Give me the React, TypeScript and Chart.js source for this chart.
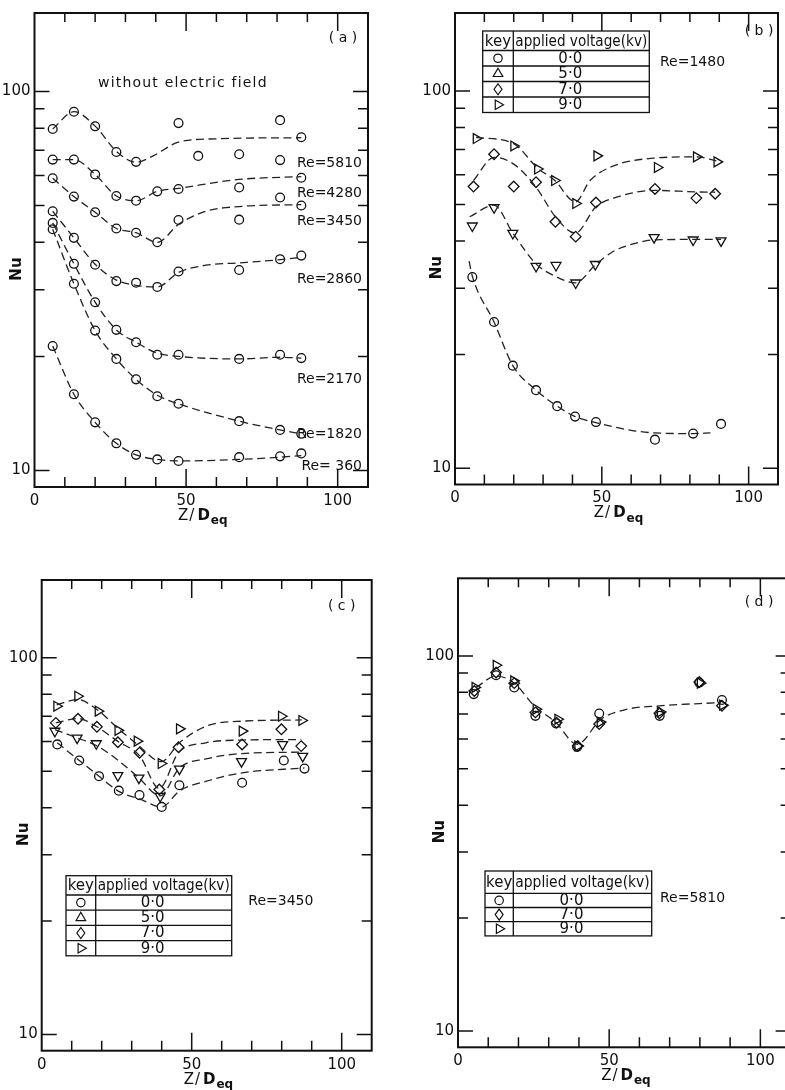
import React, { useEffect, useRef } from 'react';
import { Chart, registerables } from 'chart.js';

Chart.register(...registerables);

// ---------------- axes ----------------
const X_MIN = 0;
const X_MAX = 110;
const Y_MIN = 9.05;
const Y_MAX = 161;
const X_TICK_LABELS = [0, 50, 100];
const Y_TICK_LABELS = [10, 100];
const X_MINOR = [10, 20, 30, 40, 50, 60, 70, 80, 90, 100];
const Y_MINOR = [10, 20, 30, 40, 50, 60, 70, 80, 90, 100];

// ---------------- panel (a): without electric field ----------------
const A_X = [6, 13, 20, 27, 33.5, 40.5, 47.5, 67.5, 81, 88];
const A_5810_X = [6, 13, 20, 27, 33.5, 47.5, 54, 67.5, 81, 88];
const A_5810 = [79.6, 88.4, 80.9, 69.2, 65.2, 82.5, 67.6, 68.3, 84.0, 75.7];
const A_4280 = [66.1, 66.1, 60.4, 53.0, 51.5, 54.5, 55.3, 55.8, 65.9, 59.2];
const A_3450 = [59.0, 52.8, 48.0, 43.5, 42.4, 40.0, 45.8, 45.9, 52.5, 50.0];
const A_2860 = [48.3, 41.1, 34.9, 31.6, 31.3, 30.5, 33.5, 33.8, 36.1, 36.9];
const A_2170 = [45.0, 35.1, 27.8, 23.5, 21.8, 20.2, 20.2, 19.7, 20.2, 19.8];
const A_1820 = [43.3, 31.1, 23.4, 19.7, 17.4, 15.7, 15.0, 13.5, 12.8, 12.5];
const A_360 = [21.3, 15.9, 13.4, 11.8, 11.0, 10.7, 10.6, 10.85, 10.9, 11.1];

const A_FIT_5810_X = [6, 13, 20, 27, 33.5, 39, 47.5, 60, 88];
const A_FIT_5810 = [79.6, 88.4, 81, 69.5, 65.0, 67.5, 73.5, 75.0, 75.5];
const A_FIT_4280_X = [6, 13, 20, 27, 33.5, 40.5, 47.5, 67.5, 88];
const A_FIT_4280 = [66.1, 66.1, 60.4, 53, 51.5, 54.5, 55.5, 58.6, 59.6];
const A_FIT_3450_X = [6, 13, 20, 27, 33.5, 40.5, 47.5, 56.5, 67.5, 88];
const A_FIT_3450 = [59, 52.8, 48, 43.5, 42.4, 40, 44.6, 48.3, 49.7, 50.3];
const A_FIT_2860_X = [6, 13, 20, 27, 33.5, 40.5, 47.5, 56.5, 67.5, 81, 88];
const A_FIT_2860 = [48.3, 41.1, 35, 31.8, 30.8, 30.5, 33.3, 34.8, 35.3, 36, 36.5];
const A_FIT_2170 = [45, 35.1, 27.8, 23.5, 21.8, 20.4, 20.0, 19.7, 19.9, 19.8];
const A_FIT_1820 = [43.3, 31.1, 23.4, 19.7, 17.4, 15.8, 15.0, 13.5, 12.8, 12.5];
const A_FIT_360 = [21.3, 15.9, 13.4, 11.8, 11.0, 10.7, 10.6, 10.7, 10.85, 10.95];
const A_RE_LABELS = ['Re=5810', 'Re=4280', 'Re=3450', 'Re=2860', 'Re=2170', 'Re=1820', 'Re= 360'];

// ---------------- panel (b): Re = 1480 ----------------
const B_0_X = [5.9, 13.3, 19.7, 27.6, 34.8, 40.9, 48.0, 68.1, 81.1, 90.6];
const B_0 = [32.1, 24.4, 18.7, 16.1, 14.6, 13.7, 13.25, 11.9, 12.35, 13.1];
const B_FIT0_X = [4.8, 5.9, 13.3, 19.7, 27.6, 34.8, 40.9, 48, 60, 68, 81, 87];
const B_FIT0 = [35.4, 32.3, 24.4, 18.7, 16.1, 14.6, 13.7, 13.2, 12.6, 12.4, 12.35, 12.4];
const B_5_X = [5.9, 13.3, 19.7, 27.6, 34.4, 41.1, 47.8, 67.8, 81.1, 90.6];
const B_5 = [43.9, 49.1, 41.95, 34.3, 34.5, 31.0, 34.7, 40.9, 40.3, 40.1];
const B_FIT5_X = [5, 13.3, 19.7, 27.6, 34.4, 41, 47.8, 54, 61.7, 68, 81, 90.6];
const B_FIT5 = [46.4, 49.8, 42, 34.8, 32.2, 31, 34.6, 37.6, 39.5, 40.3, 40.4, 40.4];
const B_7_X = [6.3, 13.3, 20, 27.6, 34.2, 41.1, 48, 68.1, 82.2, 88.6];
const B_7 = [55.8, 68.0, 55.8, 57.3, 45.0, 41.1, 50.6, 55.0, 52.0, 53.4];
const B_FIT7_X = [6.3, 13.3, 20, 27.6, 34.2, 41, 48, 55, 68, 82, 88.6];
const B_FIT7 = [57.9, 66.7, 64, 55.6, 46.4, 42, 49.3, 52.3, 54.5, 54, 53.9];
const B_9_X = [7.2, 20, 28.1, 33.9, 41.1, 48.3, 68.9, 82.2, 89.2];
const B_9 = [74.8, 71.5, 62.1, 57.9, 50.3, 67.3, 62.7, 66.9, 64.9];
const B_FIT9_X = [7.2, 20, 28, 34, 41, 46, 54, 68, 82, 89];
const B_FIT9 = [75.4, 72.5, 62.6, 57.9, 50.8, 57.9, 63.3, 66.4, 66.9, 65.3];

// ---------------- panel (c): Re = 3450 ----------------
const C_0_X = [5.2, 12.5, 19.1, 25.7, 32.6, 40.0, 45.9, 66.8, 80.7, 87.6];
const C_0 = [58.9, 53.4, 48.5, 44.4, 43.2, 40.2, 45.9, 46.6, 53.4, 50.8];
const C_FIT0_X = [5.2, 12.5, 19.1, 25.7, 32.6, 40, 45.9, 54.7, 66.8, 87.6];
const C_FIT0 = [59.5, 53.4, 48.5, 44.2, 42.2, 40.2, 44.3, 47.0, 49.5, 51.0];
const C_5_X = [4.4, 11.8, 18.2, 25.4, 32.4, 39.5, 45.9, 66.6, 80.3, 87.0];
const C_5 = [63.9, 61.3, 59.2, 48.7, 48.0, 42.9, 50.7, 53.1, 58.9, 54.8];
const C_FIT5_X = [4.4, 11.8, 18.2, 25.4, 32.4, 39.5, 45.9, 54.7, 66.6, 87];
const C_FIT5 = [64.5, 61.3, 58.5, 53.5, 48, 43, 51, 53.9, 55.7, 56.2];
const C_7_X = [4.7, 12.1, 18.4, 25.4, 32.6, 39.2, 45.6, 66.8, 79.9, 86.5];
const C_7 = [67.2, 68.9, 65.6, 59.7, 56.0, 44.7, 57.9, 58.9, 64.6, 58.3];
const C_FIT7_X = [4.7, 12.1, 18.4, 25.4, 32.6, 39.2, 45.6, 54.7, 66.8, 86.5];
const C_FIT7 = [67.2, 69, 65.6, 60, 55, 45, 56, 59.5, 60.5, 60.7];
const C_9_X = [5.0, 12.0, 18.8, 25.4, 31.8, 39.8, 45.9, 66.8, 79.9, 86.7];
const C_9 = [74.4, 79.1, 72.2, 64.2, 60.1, 52.4, 64.8, 63.9, 70.0, 68.2];
const C_FIT9_X = [5, 12, 18.8, 25.4, 31.8, 39.8, 45.9, 54.7, 66.8, 86.7];
const C_FIT9 = [75, 77.5, 72.5, 65, 59, 53, 59.5, 65.8, 67.9, 68.4];

// ---------------- panel (d): Re = 5810 ----------------
const D_0_X = [5.2, 12.6, 18.6, 25.6, 32.4, 39.4, 46.7, 66.7, 79.8, 87.3];
const D_0 = [79.1, 88.8, 82.4, 69.2, 66.1, 57.2, 70.2, 69.2, 84.9, 76.3];
const D_7_X = [5.4, 12.6, 18.6, 25.6, 32.6, 39.6, 46.7, 66.6, 79.8, 87.3];
const D_7 = [80.6, 90.3, 84.6, 70.7, 66.4, 57.5, 65.8, 70.3, 85.2, 73.6];
const D_9_X = [5.6, 12.6, 18.4, 25.8, 33.0, 39.6, 47.0, 66.9, 80.1, 87.5];
const D_9 = [82.4, 94.4, 85.8, 72.1, 67.8, 57.5, 66.6, 70.9, 84.6, 73.9];
const D_FIT_X = [6, 12.6, 18.6, 25.2, 32.4, 39.4, 47.3, 56, 66.6, 87];
const D_FIT = [82.4, 88.4, 84.6, 73.6, 66.4, 58.1, 67.8, 72.1, 73.6, 75.1];

// ---------------- keys ----------------
const KEY_HEADER = ['key', 'applied voltage(kv)'];
const VOLTS_4 = ['0·0', '5·0', '7·0', '9·0'];
const VOLTS_3 = ['0·0', '7·0', '9·0'];

// ---------------- helpers ----------------
type Shape = 'circle' | 'down' | 'up' | 'diamond' | 'right';
type Series = { x: number[]; y: number[]; shape: Shape };
type Fit = { x: number[]; y: number[] };
type Area = { left: number; top: number; right: number; bottom: number };

const INK = '#111';
const FONT = '"DejaVu Sans", "Liberation Sans", sans-serif';

const pts = (xs: number[], ys: number[]) => xs.map((x, i) => ({ x, y: ys[i] }));

function pointStyleFor(shape: Shape) {
  switch (shape) {
    case 'circle':
      return { pointStyle: 'circle', pointRadius: 4.4, pointRotation: 0 };
    case 'down':
      return { pointStyle: 'triangle', pointRadius: 5.7, pointRotation: 180 };
    case 'up':
      return { pointStyle: 'triangle', pointRadius: 5.7, pointRotation: 0 };
    case 'diamond':
      return { pointStyle: 'rectRot', pointRadius: 5.3, pointRotation: 0 };
    case 'right':
      return { pointStyle: 'triangle', pointRadius: 5.7, pointRotation: 90 };
  }
}

function drawShape(ctx: CanvasRenderingContext2D, shape: Shape, x: number, y: number, r: number) {
  ctx.beginPath();
  if (shape === 'circle') {
    ctx.arc(x, y, r, 0, Math.PI * 2);
  } else if (shape === 'up') {
    ctx.moveTo(x, y - r);
    ctx.lineTo(x + r * 0.866, y + r * 0.5);
    ctx.lineTo(x - r * 0.866, y + r * 0.5);
    ctx.closePath();
  } else if (shape === 'down') {
    ctx.moveTo(x, y + r);
    ctx.lineTo(x + r * 0.866, y - r * 0.5);
    ctx.lineTo(x - r * 0.866, y - r * 0.5);
    ctx.closePath();
  } else if (shape === 'diamond') {
    ctx.moveTo(x, y - r);
    ctx.lineTo(x + r * 0.72, y);
    ctx.lineTo(x, y + r);
    ctx.lineTo(x - r * 0.72, y);
    ctx.closePath();
  } else {
    ctx.moveTo(x + r, y);
    ctx.lineTo(x - r * 0.5, y - r * 0.866);
    ctx.lineTo(x - r * 0.5, y + r * 0.866);
    ctx.closePath();
  }
  ctx.stroke();
}

function text(
  ctx: CanvasRenderingContext2D,
  s: string,
  x: number,
  y: number,
  align: CanvasTextAlign = 'left',
  font = `14px ${FONT}`,
  spacing = 0,
  maxWidth?: number
) {
  ctx.save();
  ctx.font = font;
  ctx.fillStyle = INK;
  ctx.textAlign = align;
  ctx.textBaseline = 'middle';
  (ctx as any).letterSpacing = `${spacing}px`;
  if (maxWidth) ctx.fillText(s, x, y, maxWidth);
  else ctx.fillText(s, x, y);
  ctx.restore();
}

type TableSpec = {
  left: number;
  top: number;
  width: number;
  keyW: number;
  headerH: number;
  rowH: number;
  shapes: Shape[];
  labels: string[];
};

function drawTable(ctx: CanvasRenderingContext2D, a: Area, t: TableSpec) {
  const x = a.left + t.left;
  const y = a.top + t.top;
  const n = t.labels.length;
  const h = t.headerH + t.rowH * n;
  ctx.save();
  ctx.strokeStyle = INK;
  ctx.lineWidth = 1.3;
  ctx.fillStyle = '#fff';
  ctx.fillRect(x, y, t.width, h);
  ctx.strokeRect(x, y, t.width, h);
  ctx.beginPath();
  ctx.moveTo(x + t.keyW, y);
  ctx.lineTo(x + t.keyW, y + h);
  for (let i = 0; i < n; i++) {
    const yy = y + t.headerH + i * t.rowH;
    ctx.moveTo(x, yy);
    ctx.lineTo(x + t.width, yy);
  }
  ctx.stroke();
  text(ctx, KEY_HEADER[0], x + t.keyW / 2, y + t.headerH / 2 + 1, 'center', `15px ${FONT}`, 0, t.keyW - 2);
  text(ctx, KEY_HEADER[1], x + t.keyW + 2, y + t.headerH / 2 + 1, 'left', `15px ${FONT}`, 0, t.width - t.keyW - 4);
  ctx.lineWidth = 1.2;
  for (let i = 0; i < n; i++) {
    const cy = y + t.headerH + i * t.rowH + t.rowH / 2;
    drawShape(ctx, t.shapes[i], x + t.keyW / 2, cy, t.shapes[i] === 'circle' ? 4.2 : 5.5);
    text(ctx, t.labels[i], x + t.keyW + (t.width - t.keyW) / 2 - 11, cy + 0.5, 'center', `15px ${FONT}`);
  }
  ctx.restore();
}

type PanelCfg = {
  id: string;
  left: number;
  top: number;
  width: number;
  height: number;
  area: Area;
  series: Series[];
  fits: Fit[];
  annotate: (ctx: CanvasRenderingContext2D, a: Area) => void;
};

const PANELS: PanelCfg[] = [
  {
    id: 'a',
    left: 0,
    top: 0,
    width: 392,
    height: 530,
    area: { left: 34.5, top: 7, right: 368, bottom: 487 },
    series: [
      { x: A_5810_X, y: A_5810, shape: 'circle' },
      { x: A_X, y: A_4280, shape: 'circle' },
      { x: A_X, y: A_3450, shape: 'circle' },
      { x: A_X, y: A_2860, shape: 'circle' },
      { x: A_X, y: A_2170, shape: 'circle' },
      { x: A_X, y: A_1820, shape: 'circle' },
      { x: A_X, y: A_360, shape: 'circle' },
    ],
    fits: [
      { x: A_FIT_5810_X, y: A_FIT_5810 },
      { x: A_FIT_4280_X, y: A_FIT_4280 },
      { x: A_FIT_3450_X, y: A_FIT_3450 },
      { x: A_FIT_2860_X, y: A_FIT_2860 },
      { x: A_X, y: A_FIT_2170 },
      { x: A_X, y: A_FIT_1820 },
      { x: A_X, y: A_FIT_360 },
    ],
    annotate: (ctx, a) => {
      text(ctx, '( a )', a.left + 308.5, a.top + 25, 'center');
      text(ctx, 'without electric field', a.left + 63.5, a.top + 70, 'left', `14px ${FONT}`, 1.2);
      const ys = [150, 180, 208, 266, 366, 421, 453];
      A_RE_LABELS.forEach((s, i) => text(ctx, s, a.left + 327.5, a.top + ys[i], 'right'));
    },
  },
  {
    id: 'b',
    left: 420,
    top: 0,
    width: 365,
    height: 530,
    area: { left: 35, top: 10, right: 364, bottom: 484.5 },
    series: [
      { x: B_0_X, y: B_0, shape: 'circle' },
      { x: B_5_X, y: B_5, shape: 'down' },
      { x: B_7_X, y: B_7, shape: 'diamond' },
      { x: B_9_X, y: B_9, shape: 'right' },
    ],
    fits: [
      { x: B_FIT0_X, y: B_FIT0 },
      { x: B_FIT5_X, y: B_FIT5 },
      { x: B_FIT7_X, y: B_FIT7 },
      { x: B_FIT9_X, y: B_FIT9 },
    ],
    annotate: (ctx, a) => {
      text(ctx, '( b )', a.left + 304, a.top + 18.3, 'center');
      text(ctx, 'Re=1480', a.left + 205, a.top + 49.3);
      drawTable(ctx, a, {
        left: 27.7,
        top: 18,
        width: 166.6,
        keyW: 30.6,
        headerH: 19.5,
        rowH: 15.5,
        shapes: ['circle', 'up', 'diamond', 'right'],
        labels: VOLTS_4,
      });
    },
  },
  {
    id: 'c',
    left: 0,
    top: 560,
    width: 392,
    height: 530,
    area: { left: 41.7, top: 20, right: 371.7, bottom: 490.7 },
    series: [
      { x: C_0_X, y: C_0, shape: 'circle' },
      { x: C_5_X, y: C_5, shape: 'down' },
      { x: C_7_X, y: C_7, shape: 'diamond' },
      { x: C_9_X, y: C_9, shape: 'right' },
    ],
    fits: [
      { x: C_FIT0_X, y: C_FIT0 },
      { x: C_FIT5_X, y: C_FIT5 },
      { x: C_FIT7_X, y: C_FIT7 },
      { x: C_FIT9_X, y: C_FIT9 },
    ],
    annotate: (ctx, a) => {
      text(ctx, '( c )', a.left + 300, a.top + 26.7, 'center');
      text(ctx, 'Re=3450', a.left + 206.6, a.top + 321.7);
      drawTable(ctx, a, {
        left: 24.3,
        top: 295.7,
        width: 165.7,
        keyW: 29.7,
        headerH: 19.3,
        rowH: 15.2,
        shapes: ['circle', 'up', 'diamond', 'right'],
        labels: VOLTS_4,
      });
    },
  },
  {
    id: 'd',
    left: 420,
    top: 560,
    width: 380,
    height: 530,
    area: { left: 38, top: 18.3, right: 370.6, bottom: 487.3 },
    series: [
      { x: D_0_X, y: D_0, shape: 'circle' },
      { x: D_7_X, y: D_7, shape: 'diamond' },
      { x: D_9_X, y: D_9, shape: 'right' },
    ],
    fits: [{ x: D_FIT_X, y: D_FIT }],
    annotate: (ctx, a) => {
      text(ctx, '( d )', a.left + 301, a.top + 24.4, 'center');
      text(ctx, 'Re=5810', a.left + 202, a.top + 320);
      drawTable(ctx, a, {
        left: 27,
        top: 292.7,
        width: 166.7,
        keyW: 28.3,
        headerH: 22.3,
        rowH: 14.2,
        shapes: ['circle', 'diamond', 'right'],
        labels: VOLTS_3,
      });
    },
  },
];

function buildConfig(cfg: PanelCfg): any {
  const datasets: any[] = [];
  cfg.fits.forEach((f) => {
    datasets.push({
      type: 'line',
      data: pts(f.x, f.y),
      showLine: true,
      borderColor: '#222',
      borderWidth: 1.3,
      borderDash: [8, 4.5],
      pointRadius: 0,
      fill: false,
      cubicInterpolationMode: 'monotone',
    });
  });
  cfg.series.forEach((s) => {
    datasets.push({
      type: 'scatter',
      data: pts(s.x, s.y),
      showLine: false,
      borderColor: INK,
      backgroundColor: 'rgba(0,0,0,0)',
      pointBorderColor: INK,
      pointBackgroundColor: 'rgba(0,0,0,0)',
      pointBorderWidth: 1.3,
      ...pointStyleFor(s.shape),
    });
  });

  const framePlugin = {
    id: 'frame_' + cfg.id,
    afterDraw(chart: any) {
      const ctx: CanvasRenderingContext2D = chart.ctx;
      const a: Area = chart.chartArea;
      const xs = chart.scales.x;
      const ys = chart.scales.y;
      ctx.save();
      ctx.strokeStyle = INK;
      ctx.lineWidth = 2;
      ctx.strokeRect(a.left, a.top, a.right - a.left, a.bottom - a.top);
      ctx.lineWidth = 1.5;
      ctx.beginPath();
      X_MINOR.forEach((v) => {
        const px = xs.getPixelForValue(v);
        const major = v % 50 === 0;
        ctx.moveTo(px, a.bottom);
        ctx.lineTo(px, a.bottom - (major ? 18 : 10));
        ctx.moveTo(px, a.top);
        ctx.lineTo(px, a.top + (major ? 18 : 9));
      });
      Y_MINOR.forEach((v) => {
        const py = ys.getPixelForValue(v);
        const major = v === 10 || v === 100;
        ctx.moveTo(a.left, py);
        ctx.lineTo(a.left + (major ? 15 : 10), py);
        ctx.moveTo(a.right, py);
        ctx.lineTo(a.right - (major ? 15 : 10), py);
      });
      ctx.stroke();

      // y title
      ctx.save();
      ctx.translate(a.left - 17.5, ys.getPixelForValue(34));
      ctx.rotate(-Math.PI / 2);
      ctx.font = `bold 15px ${FONT}`;
      ctx.fillStyle = INK;
      ctx.textAlign = 'center';
      ctx.textBaseline = 'middle';
      ctx.fillText('Nu', 0, 0);
      ctx.restore();

      // x title  Z/D_eq
      const x0 = xs.getPixelForValue(50) - 8;
      const y0 = a.bottom + 29;
      ctx.save();
      ctx.fillStyle = INK;
      ctx.textBaseline = 'middle';
      ctx.textAlign = 'left';
      ctx.font = `15px ${FONT}`;
      (ctx as any).letterSpacing = '1px';
      ctx.fillText('Z/', x0, y0);
      const w1 = ctx.measureText('Z/').width;
      ctx.font = `bold 15px ${FONT}`;
      ctx.fillText('D', x0 + w1 + 2, y0);
      const w2 = ctx.measureText('D').width;
      (ctx as any).letterSpacing = '0px';
      ctx.font = `bold 12px ${FONT}`;
      ctx.fillText('eq', x0 + w1 + w2 + 2, y0 + 5);
      ctx.restore();

      cfg.annotate(ctx, a);
      ctx.restore();
    },
  };

  const tickFont = { family: FONT, size: 15 };
  return {
    type: 'scatter',
    data: { datasets },
    plugins: [framePlugin],
    options: {
      responsive: false,
      maintainAspectRatio: false,
      animation: false,
      events: [],
      layout: {
        padding: { left: 0, top: cfg.area.top, right: cfg.width - cfg.area.right, bottom: 0 },
      },
      plugins: { legend: { display: false }, tooltip: { enabled: false }, title: { display: false } },
      scales: {
        x: {
          type: 'linear',
          min: X_MIN,
          max: X_MAX,
          bounds: 'data',
          afterBuildTicks: (s: any) => {
            s.ticks = X_TICK_LABELS.map((v) => ({ value: v }));
          },
          afterFit: (s: any) => {
            s.height = cfg.height - cfg.area.bottom;
          },
          grid: { display: false, drawTicks: false },
          border: { display: false },
          ticks: {
            font: tickFont,
            color: INK,
            padding: 5,
            maxRotation: 0,
            autoSkip: false,
            callback: (v: any) => String(v),
          },
        },
        y: {
          type: 'logarithmic',
          min: Y_MIN,
          max: Y_MAX,
          bounds: 'data',
          afterBuildTicks: (s: any) => {
            s.ticks = Y_TICK_LABELS.map((v) => ({ value: v }));
          },
          afterFit: (s: any) => {
            s.width = cfg.area.left;
          },
          grid: { display: false, drawTicks: false },
          border: { display: false },
          ticks: {
            font: tickFont,
            color: INK,
            padding: 4,
            autoSkip: false,
            callback: (v: any) => String(v),
          },
        },
      },
    },
  };
}

function Panel({ cfg }: { cfg: PanelCfg }) {
  const ref = useRef<HTMLCanvasElement>(null);
  useEffect(() => {
    const chart = new Chart(ref.current as HTMLCanvasElement, buildConfig(cfg));
    return () => chart.destroy();
  }, [cfg]);
  return (
    <canvas
      ref={ref}
      width={cfg.width}
      height={cfg.height}
      style={{ position: 'absolute', left: cfg.left, top: cfg.top, width: cfg.width, height: cfg.height }}
    />
  );
}

export default function App() {
  return (
    <div
      style={{
        position: 'absolute',
        left: 0,
        top: 0,
        width: 785,
        height: 1090,
        overflow: 'hidden',
        background: '#fff',
      }}
    >
      {PANELS.map((p) => (
        <Panel key={p.id} cfg={p} />
      ))}
    </div>
  );
}
